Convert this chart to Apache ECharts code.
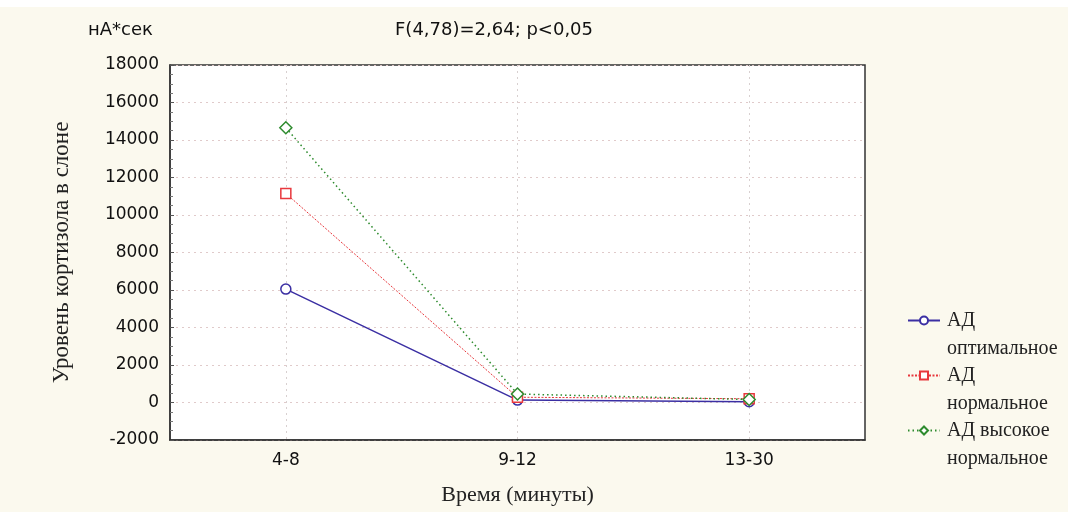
<!DOCTYPE html>
<html><head><meta charset="utf-8">
<script src="https://cdn.jsdelivr.net/npm/echarts@6/dist/echarts.min.js"></script>
<style>html,body{margin:0;padding:0;background:#ffffff;}#c{width:1068px;height:512px;}</style>
</head><body><div id="c"></div>
<script>
const categories = ['4-8', '9-12', '13-30'];
const optimal = [6050, 130, 40];
const normal = [11150, 280, 200];
const highNormal = [14650, 450, 160];
const yTicks = { min: -2000, max: 18000, interval: 2000 };
const seriesNames = ['АД оптимальное', 'АД нормальное', 'АД высокое нормальное'];
const legendFirstLines = ['АД', 'АД', 'АД высокое'];
const legendSecondLines = ['оптимальное', 'нормальное', 'нормальное'];

const chart = echarts.init(document.getElementById('c'), null, { renderer: 'canvas' });
const serif = 'Liberation Serif';
const sans = 'DejaVu Sans';
const legendTop = 303, legendStep = 55, legendFont = 20;
const graphics = [
  { type: 'rect', shape: { x: 0, y: 0, width: 1068, height: 7 }, style: { fill: '#ffffff' }, silent: true },
  { type: 'text', left: 88, top: 21, style: { text: 'нА*сек', font: '18px "DejaVu Sans"', fill: '#111' } },
  { type: 'text', left: 395, top: 21, style: { text: 'F(4,78)=2,64; p<0,05', font: '18px "DejaVu Sans"', fill: '#111' } }
];
legendSecondLines.forEach((t, i) => {
  graphics.push({ type: 'text', left: 947, top: legendTop + legendStep * i + 36,
    style: { text: t, font: legendFont + 'px "Liberation Serif"', fill: '#222' } });
});
chart.setOption({
  backgroundColor: '#fbf9ee',
  animation: false,
  graphic: graphics,
  grid: { left: 170, right: 203, top: 65, bottom: 72, containLabel: false, show: true, backgroundColor: '#ffffff', borderColor: '#333', borderWidth: 1.5 },
  legend: {
    orient: 'vertical', left: 902, top: legendTop, itemGap: legendStep - 25, itemWidth: 32, itemHeight: 10,
    formatter: name => legendFirstLines[seriesNames.indexOf(name)],
    textStyle: { fontFamily: serif, fontSize: legendFont, color: '#222', lineHeight: 25, padding: [0, 0, 0, 2] },
    data: seriesNames
  },
  xAxis: {
    type: 'category', data: categories, boundaryGap: true,
    name: 'Время (минуты)', nameLocation: 'middle', nameGap: 44,
    nameTextStyle: { fontFamily: serif, fontSize: 22, color: '#222' },
    axisLine: { onZero: false, lineStyle: { color: '#333', width: 1.5 } },
    axisTick: { alignWithLabel: true, inside: true, length: 5, lineStyle: { color: '#333' } },
    axisLabel: { fontFamily: sans, fontSize: 17, color: '#111', margin: 12 },
    splitLine: { show: true, alignWithLabel: true, lineStyle: { color: '#d8d0d0', type: [2, 4], width: 1 } }
  },
  yAxis: {
    type: 'value', min: yTicks.min, max: yTicks.max, interval: yTicks.interval,
    name: 'Уровень кортизола в слоне', nameLocation: 'middle', nameGap: 97, nameRotate: 90,
    nameTextStyle: { fontFamily: serif, fontSize: 23, color: '#222' },
    axisLine: { show: true, lineStyle: { color: '#333', width: 1.5 } },
    axisTick: { show: true, inside: true, length: 4, lineStyle: { color: '#555' } },
    minorTick: { show: true, splitNumber: 4, length: 3, lineStyle: { color: '#777' } },
    axisLabel: { fontFamily: sans, fontSize: 17, color: '#111', margin: 11, formatter: v => String(v) },
    splitLine: { show: true, lineStyle: { color: '#e0caca', type: [2, 4], width: 1 } }
  },
  series: [
    { name: seriesNames[0], type: 'line', data: optimal, symbol: 'circle', symbolSize: 10,
      itemStyle: { color: '#ffffff', borderColor: '#3b2fa3', borderWidth: 1.5 },
      lineStyle: { color: '#3b2fa3', width: 1.5, type: 'solid' }, z: 3 },
    { name: seriesNames[1], type: 'line', data: normal, symbol: 'rect', symbolSize: 10,
      itemStyle: { color: '#ffffff', borderColor: '#e8383d', borderWidth: 1.5 },
      lineStyle: { color: '#e8383d', width: 1, type: [2, 1.5] }, z: 4 },
    { name: seriesNames[2], type: 'line', data: highNormal, symbol: 'diamond', symbolSize: 12,
      itemStyle: { color: '#ffffff', borderColor: '#2e8b2e', borderWidth: 1.5 },
      lineStyle: { color: '#2e8b2e', width: 1.5, type: [1.5, 3] }, z: 5 }
  ]
});
</script></body></html>
